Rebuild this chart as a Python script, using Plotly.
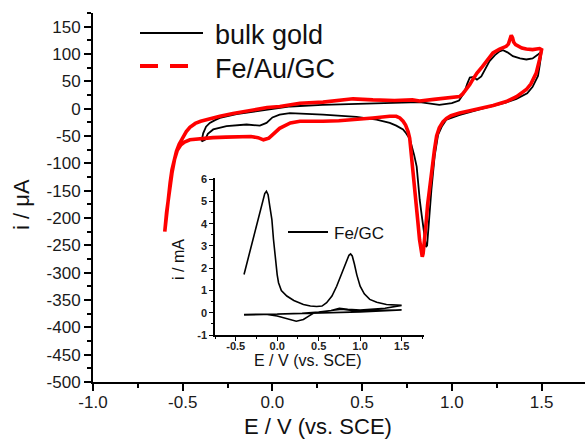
import plotly.graph_objects as go

# ---------------- data ----------------
# bulk gold (black), E in V, I in uA
bg_E = [-0.395, -0.386, -0.37, -0.349, -0.32, -0.293, -0.2, -0.14, 0.04, 0.1, 0.28, 0.47, 0.65, 0.82,
        0.93, 1.0, 1.04, 1.07, 1.085, 1.10, 1.12, 1.14, 1.164, 1.19, 1.21, 1.24, 1.266, 1.285, 1.31,
        1.34, 1.38, 1.415, 1.45, 1.48, 1.50,
        1.49, 1.48, 1.45, 1.42, 1.36, 1.30, 1.17, 1.04, 0.97, 0.945, 0.923, 0.904, 0.886, 0.872,
        0.862, 0.856, 0.85, 0.843, 0.832, 0.821, 0.812, 0.804, 0.79, 0.776, 0.765, 0.745, 0.728,
        0.69, 0.654, 0.58, 0.468, 0.282, 0.153, 0.097, 0.04, 0.0, -0.033, -0.07, -0.144, -0.2,
        -0.256, -0.33, -0.36, -0.376, -0.395]
bg_I = [-60, -45, -33, -26, -21, -17, -10, -7, 2, 4, 7, 9, 11, 12,
        7, 10, 15, 30, 45, 57, 58, 53, 59, 75, 87, 98, 105, 107, 103,
        96, 92, 90, 92, 99, 104,
        80, 60, 40, 28, 18, 11, 0, -12, -20, -32, -48, -87, -148, -200,
        -250, -253, -240, -220, -195, -167, -135, -106, -85, -70, -55, -45, -38,
        -31, -26, -20, -15, -11, -8, -8, -11, -16, -26, -31, -29, -30,
        -32, -38, -46, -57, -60]

# Fe/Au/GC (red)
fe_E = [-0.60, -0.59, -0.58, -0.57, -0.56, -0.55, -0.535, -0.52, -0.50, -0.48, -0.46, -0.43, -0.40,
        -0.35, -0.293, -0.22, -0.144, -0.03, 0.041, 0.097, 0.153, 0.282, 0.37, 0.449, 0.56, 0.68,
        0.78, 0.82, 0.90, 0.97, 1.043, 1.06, 1.08, 1.10, 1.116, 1.14, 1.17, 1.20, 1.229, 1.266,
        1.303, 1.315, 1.322, 1.331, 1.338, 1.344, 1.355, 1.368, 1.39, 1.415, 1.45, 1.489, 1.50,
        1.489, 1.47, 1.44, 1.415, 1.36, 1.303, 1.23, 1.173, 1.10, 1.043, 0.995, 0.97, 0.95, 0.93,
        0.915, 0.903, 0.89, 0.877, 0.865, 0.855, 0.847, 0.84, 0.835, 0.828, 0.82, 0.81, 0.80,
        0.793, 0.785, 0.776, 0.765, 0.756, 0.742, 0.728, 0.71, 0.69, 0.654, 0.56, 0.468, 0.37,
        0.282, 0.2, 0.153, 0.10, 0.04, 0.0, -0.02, -0.05, -0.08, -0.12, -0.182, -0.26, -0.332,
        -0.40, -0.46, -0.49, -0.51, -0.53, -0.545, -0.56, -0.575, -0.59, -0.60]
fe_I = [-225, -190, -160, -135, -112, -95, -78, -65, -52, -42, -34, -27, -23,
        -18, -14, -9, -5, 2, 4, 7, 10, 12, 15, 18, 16, 15,
        16, 14, 17, 20, 22, 27, 35, 44, 53, 65, 77, 90, 102, 109,
        114, 118, 126, 134, 130, 122, 117, 115, 111, 109, 108, 110, 108,
        90, 65, 45, 35, 22, 13, 6, 1, -4, -8, -13, -18, -24, -35,
        -50, -75, -106, -140, -175, -215, -245, -265, -271, -260, -240, -205, -170,
        -148, -110, -75, -54, -42, -30, -23, -17, -14, -14, -17, -20, -22,
        -23, -23, -23, -26, -36, -48, -54, -57, -53, -51, -51, -52, -53,
        -55, -57, -61, -66, -76, -92, -118, -150, -190, -225]

# inset: Fe/GC, E in V, I in mA
gc_E = [-0.40, -0.34, -0.28, -0.24, -0.20, -0.17, -0.15, -0.13, -0.11, -0.09, -0.064, -0.045, -0.024,
        0.0, 0.016, 0.05, 0.116, 0.2, 0.316, 0.4, 0.476, 0.54, 0.596, 0.66, 0.717, 0.78, 0.837,
        0.865, 0.885, 0.905, 0.93, 0.96, 1.0, 1.05, 1.116, 1.2, 1.317, 1.4, 1.5,
        1.3, 1.0, 0.85, 0.75, 0.65, 0.5, 0.44, 0.38, 0.316, 0.23, 0.15, 0.076, 0.0, -0.12, -0.4,
        0.0, 0.3, 0.5, 0.7, 0.78, 0.9, 1.2, 1.5,
        1.0, 0.5, 0.0, -0.4]
gc_I = [1.72, 2.6, 3.43, 4.05, 4.63, 5.05, 5.35, 5.45, 5.3, 4.8, 4.18, 3.3, 2.39,
        1.7, 1.35, 1.0, 0.75, 0.55, 0.37, 0.3, 0.28, 0.3, 0.45, 0.75, 1.19, 1.8, 2.39,
        2.58, 2.64, 2.55, 2.2, 1.7, 1.19, 0.85, 0.6, 0.47, 0.37, 0.34, 0.33,
        0.2, 0.12, 0.15, 0.2, 0.1, 0.0, -0.02, -0.15, -0.3, -0.38, -0.3, -0.21, -0.15, -0.08, -0.08,
        -0.06, -0.02, 0.03, 0.12, 0.16, 0.1, 0.12, 0.12,
        0.04, -0.01, -0.06, -0.1]

# tick labels
x_ticks = [-1.0, -0.5, 0.0, 0.5, 1.0, 1.5]
x_tick_labels = ["-1.0", "-0.5", "0.0", "0.5", "1.0", "1.5"]
y_ticks = [150, 100, 50, 0, -50, -100, -150, -200, -250, -300, -350, -400, -450, -500]
y_tick_labels = ["150", "100", "50", "0", "-50", "-100", "-150", "-200", "-250", "-300",
                 "-350", "-400", "-450", "-500"]
ix_ticks = [-0.5, 0.0, 0.5, 1.0, 1.5]
ix_tick_labels = ["-0.5", "0.0", "0.5", "1.0", "1.5"]
iy_ticks = [-1, 0, 1, 2, 3, 4, 5, 6]
iy_tick_labels = ["-1", "0", "1", "2", "3", "4", "5", "6"]

series_names = ["bulk gold", "Fe/Au/GC", "Fe/GC"]

# ---------------- figure ----------------
FONT = "Liberation Sans, Arial, sans-serif"
W, H = 585, 443
L, R, T, B = 93, 0, 13, 61
PW, PH = W - L - R, H - T - B


def px2paper(x, y):
    return (x - L) / PW, (H - B - y) / PH


fig = go.Figure()
fig.add_trace(go.Scatter(x=bg_E, y=bg_I, mode="lines", name=series_names[0],
                         line=dict(color="black", width=1.8), xaxis="x", yaxis="y"))
fig.add_trace(go.Scatter(x=fe_E, y=fe_I, mode="lines", name=series_names[1],
                         line=dict(color="#ff0000", width=3.6), xaxis="x", yaxis="y"))
fig.add_trace(go.Scatter(x=gc_E, y=gc_I, mode="lines", name=series_names[2],
                         line=dict(color="black", width=1.6), xaxis="x2", yaxis="y2"))

main_axis = dict(showline=True, linecolor="black", linewidth=2, ticks="outside",
                 ticklen=7, tickwidth=1.5, tickcolor="black", showgrid=False, zeroline=False,
                 tickfont=dict(family=FONT, size=17, color="#1a1a1a"))
inset_axis = dict(showline=True, linecolor="black", linewidth=1.6, ticks="outside",
                  ticklen=4, tickwidth=1.3, tickcolor="black", showgrid=False, zeroline=False,
                  tickfont=dict(family=FONT, size=11, color="#222", weight="bold"))

ix0, iy0 = px2paper(215, 335)
ix1, iy1 = px2paper(424, 178)

fig.update_layout(
    width=W, height=H, margin=dict(l=L, r=R, t=T, b=B),
    paper_bgcolor="white", plot_bgcolor="rgba(0,0,0,0)", showlegend=False,
    xaxis=dict(main_axis, domain=[0, 1], range=[-1.0, 1.742], anchor="y",
               tickmode="array", tickvals=x_ticks, ticktext=x_tick_labels,
               ticklabelstandoff=-3,
               minor=dict(ticks="outside", ticklen=4, tickwidth=1.5, tickcolor="black",
                          dtick=0.25, tick0=0, showgrid=False)),
    yaxis=dict(main_axis, domain=[0, 1], range=[-500, 175], anchor="x",
               tickmode="array", tickvals=y_ticks, ticktext=y_tick_labels,
               minor=dict(ticks="outside", ticklen=4, tickwidth=1.5, tickcolor="black",
                          dtick=25, tick0=0, showgrid=False)),
    xaxis2=dict(inset_axis, domain=[ix0, ix1], range=[-0.75, 1.77], anchor="y2",
                tickmode="array", tickvals=ix_ticks, ticktext=ix_tick_labels,
                ticklabelstandoff=-4,
                minor=dict(ticks="outside", ticklen=2.5, tickwidth=1.2, tickcolor="black",
                           dtick=0.25, tick0=0, showgrid=False)),
    yaxis2=dict(inset_axis, domain=[iy0, iy1], range=[-1, 6.05], anchor="x2",
                tickmode="array", tickvals=iy_ticks, ticktext=iy_tick_labels,
                minor=dict(ticks="outside", ticklen=2.5, tickwidth=1.2, tickcolor="black",
                           dtick=0.5, tick0=0, showgrid=False)),
)

annotations = []
shapes = []


def text(xp, yp, s, size, anchor="center", angle=0, weight="normal"):
    x, y = px2paper(xp, yp)
    annotations.append(dict(x=x, y=y, xref="paper", yref="paper", text=s, showarrow=False,
                            xanchor=anchor, yanchor="middle", textangle=angle,
                            font=dict(family=FONT, size=size, color="#111", weight=weight)))


def hline(x0p, x1p, yp, color, width, dash="solid"):
    x0, y = px2paper(x0p, yp)
    x1, _ = px2paper(x1p, yp)
    shapes.append(dict(type="line", xref="paper", yref="paper", x0=x0, x1=x1, y0=y, y1=y,
                       line=dict(color=color, width=width, dash=dash)))


# axis titles
text(318, 426, "E / V (vs. SCE)", 22)
text(22, 205, "i / μA", 22, angle=-90)
text(308, 360, "E / V (vs. SCE)", 16)
text(178, 260, "i / mA", 16, angle=-90)

# legends
hline(140, 203, 33, "black", 1.8)
text(213, 35, series_names[0], 27, anchor="left")
hline(140, 192, 66, "#ff0000", 4, dash="18px,12px")
text(213, 69, series_names[1], 27, anchor="left")
hline(288, 328, 232, "black", 1.8)
text(332, 233, series_names[2], 17, anchor="left")

fig.update_layout(annotations=annotations, shapes=shapes)
fig.write_html("out.html")
